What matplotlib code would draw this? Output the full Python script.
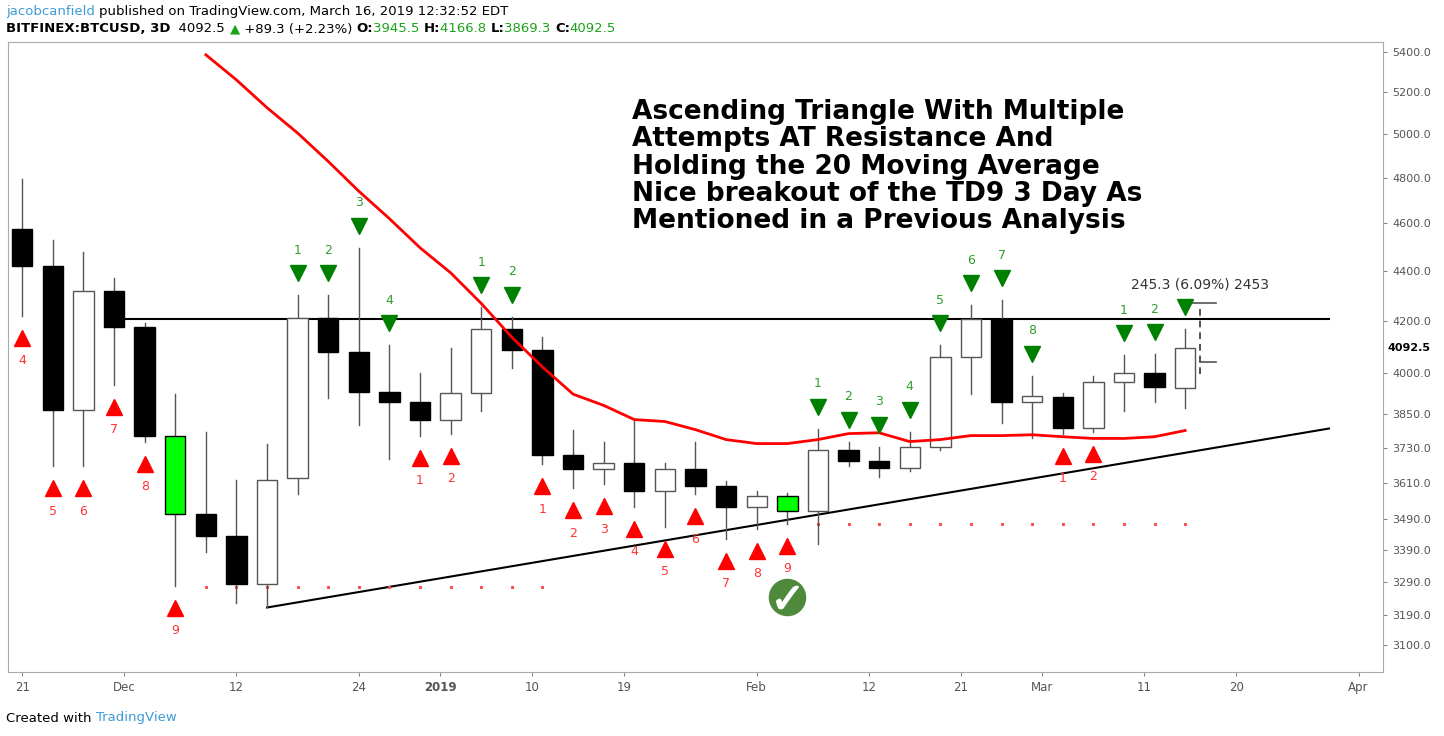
import numpy as np
import matplotlib.pyplot as plt
from matplotlib.patches import Rectangle
from matplotlib.transforms import ScaledTranslation

# 3D candles, BITFINEX:BTCUSD, starting Nov 21 2018
opens = [4574, 4422, 3865, 4320, 4177, 3772, 3507, 3435, 3284, 3624, 4212, 4077, 3928,
         3894, 3829, 3925, 4169, 4085, 3703, 3655, 3675, 3580, 3655, 3597, 3530, 3514,
         3514, 3723, 3682, 3658, 3733, 4058, 4208, 3894, 3909, 3800, 3966, 4000, 3945.5]
highs = [4796, 4530, 4480, 4372, 4192, 3921, 3786, 3617, 3744, 4300, 4300, 4496, 4104,
         4000, 4093, 4252, 4216, 4135, 3793, 3751, 3829, 3675, 3751, 3614, 3580, 3574,
         3797, 3751, 3733, 3786, 4104, 4260, 4280, 3989, 3925, 3989, 4066, 4070, 4166.8]
lows = [4220, 3665, 3665, 3955, 3751, 3278, 3384, 3227, 3212, 3570, 3906, 3811, 3689,
        3772, 3779, 3858, 4019, 3672, 3590, 3604, 3530, 3464, 3570, 3425, 3458, 3474,
        3409, 3665, 3630, 3648, 3723, 3921, 3815, 3762, 3779, 3786, 3858, 3894, 3869.3]
closes = [4422, 3865, 4320, 4177, 3772, 3507, 3435, 3284, 3620, 4212, 4077, 3928, 3894,
          3829, 3925, 4169, 4085, 3703, 3655, 3675, 3580, 3655, 3597, 3530, 3564, 3564,
          3723, 3682, 3658, 3733, 4058, 4208, 3894, 3913, 3800, 3966, 4000, 3947, 4092.5]
highlight = [5, 25]  # TD9 bars painted green

# 20 MA from candle index 6 onwards
ma20 = [5385, 5260, 5125, 5005, 4874, 4740, 4620, 4496, 4392, 4268, 4135, 4022, 3921,
        3880, 3829, 3822, 3793, 3758, 3744, 3744, 3758, 3779, 3782, 3751, 3758, 3772,
        3772, 3775, 3768, 3762, 3762, 3768, 3790]
ma_start = 6

# TD sequential counts: candle index -> count
td_sell = {9: 1, 10: 2, 11: 3, 12: 4, 15: 1, 16: 2, 26: 1, 27: 2, 28: 3, 29: 4, 30: 5,
           31: 6, 32: 7, 33: 8, 36: 1, 37: 2, 38: None}
td_buy = {0: 4, 1: 5, 2: 6, 3: 7, 4: 8, 5: 9, 13: 1, 14: 2, 17: 1, 18: 2, 19: 3, 20: 4,
          21: 5, 22: 6, 23: 7, 24: 8, 25: 9, 34: 1, 35: 2}

tdst_lines = [(6, 17, 3275), (26, 38, 3474)]
resistance = 4208
trend_start = (8, 3212)
trend_end = (42.7, 3797)

ytick_vals = [3100, 3190, 3290, 3390, 3490, 3610, 3730, 3850, 4000, 4200, 4400, 4600,
              4800, 5000, 5200, 5400]
xtick_days = [0, 10, 21, 33, 41, 50, 59, 72, 83, 92, 100, 110, 119, 131]
xtick_labels = ["21", "Dec", "12", "24", "2019", "10", "19", "Feb", "12", "21", "Mar",
                "11", "20", "Apr"]

title_lines = ["Ascending Triangle With Multiple", "Attempts AT Resistance And",
               "Holding the 20 Moving Average", "Nice breakout of the TD9 3 Day As",
               "Mentioned in a Previous Analysis"]

fig = plt.figure(figsize=(14.44, 7.36), dpi=100)
ax = fig.add_axes([8 / 1444, 1 - 672 / 736, 1375 / 1444, 630 / 736])
ax.set_yscale("log")
ax.set_xlim(-1.4, 133.4)
ax.set_ylim(3024, 5450)

days = np.arange(len(opens)) * 3
w = 2.0
for i, d in enumerate(days):
    o, h, l, c = opens[i], highs[i], lows[i], closes[i]
    ax.plot([d, d], [l, h], color="#555555", lw=1, zorder=2)
    if i in highlight:
        fc = "#00ff00"
    elif c < o:
        fc = "black"
    else:
        fc = "white"
    lo, hi = min(o, c), max(o, c)
    ax.add_patch(Rectangle((d - w / 2, lo), w, hi - lo, facecolor=fc,
                           edgecolor="black" if fc != "white" else "#555555", lw=1, zorder=3))

ax.plot(days[ma_start:ma_start + len(ma20)], ma20, color="#ff0000", lw=2, zorder=4)

ax.plot([days[3], trend_end[0] * 3], [resistance, resistance], color="black", lw=1.5, zorder=1)
ax.plot([trend_start[0] * 3, trend_end[0] * 3], [trend_start[1], trend_end[1]],
        color="black", lw=1.5, zorder=1)

for a, b, lvl in tdst_lines:
    ax.plot(days[a:b + 1], [lvl] * (b - a + 1), ls="none", marker="s", ms=1.2,
            color="#ff4444", zorder=1)

up = ax.transData + ScaledTranslation(0, 22 / 100, fig.dpi_scale_trans)
down = ax.transData + ScaledTranslation(0, -22 / 100, fig.dpi_scale_trans)
for i, n in td_sell.items():
    ax.plot(days[i], highs[i], marker="v", ms=12, color="#008000", ls="none", zorder=5,
            transform=up)
    if n is not None:
        ax.annotate(str(n), (days[i], highs[i]), xytext=(0, 45), textcoords="offset pixels",
                    ha="center", va="center", color="#2e9e2e", fontsize=9)

for i, n in td_buy.items():
    ax.plot(days[i], lows[i], marker="^", ms=12, color="#ff0000", ls="none", zorder=5,
            transform=down)
    ax.annotate(str(n), (days[i], lows[i]), xytext=(0, -45), textcoords="offset pixels",
                ha="center", va="center", color="#ff3333", fontsize=9)

# check mark on the TD9 buy
ax.plot(days[25], 3245, marker="o", ms=26, color="#4f8a3c", zorder=6)
ax.plot(days[25], 3245, marker="$\u2713$", ms=16, color="white", zorder=7)

# measure tool
mx = days[38] + 1.5
ax.plot([mx, mx], [3995, 4262], color="#333333", lw=1.2, ls=(0, (4, 3)))
ax.plot([mx, mx + 1.5], [4040, 4040], color="#555555", lw=1.2)
ax.plot([mx - 1.5, mx + 1.5], [4268, 4268], color="#555555", lw=1.2)
ax.annotate("245.3 (6.09%) 2453", (mx, 4268), xytext=(0, 12), textcoords="offset pixels",
            ha="center", va="bottom", fontsize=10, color="#333333")

ax.text(0.4535, 0.91, "\n".join(title_lines), transform=ax.transAxes, ha="left", va="top",
        fontsize=19, fontweight="bold", linespacing=1.07, family="DejaVu Sans")

ax.yaxis.tick_right()
ax.set_yticks(ytick_vals)
ax.set_yticklabels([f"{v:.1f}" for v in ytick_vals], fontsize=8, color="#555555")
ax.yaxis.set_minor_locator(plt.NullLocator())
ax.set_xticks(xtick_days)
ax.set_xticklabels(xtick_labels, fontsize=8.5, color="#555555")
for lbl in ax.get_xticklabels():
    if lbl.get_text() == "2019":
        lbl.set_fontweight("bold")
ax.tick_params(length=3, color="#888888")
for s in ax.spines.values():
    s.set_color("#aaaaaa")
ax.text(1.003, np.log(4092.5 / 3024) / np.log(5450 / 3024), "4092.5", transform=ax.transAxes,
        fontsize=8, fontweight="bold", va="center", ha="left",
        bbox=dict(facecolor="white", edgecolor="none", pad=1))

fig.canvas.draw()
r = fig.canvas.get_renderer()


def text_row(parts, y, x0=6):
    xpos = x0 / 1444
    for t, col, fw in parts:
        tt = fig.text(xpos, 1 - y / 736, t, color=col, fontweight=fw, fontsize=9.5, va="center")
        xpos += tt.get_window_extent(renderer=r).width / 1444


text_row([("jacobcanfield ", "#3d9bd6", "normal"),
          ("published on TradingView.com, March 16, 2019 12:32:52 EDT", "black", "normal")], 11)
text_row([("BITFINEX:BTCUSD, 3D", "black", "bold"), ("  4092.5 ", "black", "normal"),
          ("\u25b2", "#1aa31a", "normal"), (" +89.3 (+2.23%) ", "black", "normal"),
          ("O:", "black", "bold"), ("3945.5 ", "#1aa31a", "normal"), ("H:", "black", "bold"),
          ("4166.8 ", "#1aa31a", "normal"), ("L:", "black", "bold"), ("3869.3 ", "#1aa31a", "normal"),
          ("C:", "black", "bold"), ("4092.5", "#1aa31a", "normal")], 29)
text_row([("Created with ", "black", "normal"), ("TradingView", "#3d9bd6", "normal")], 718)

fig.savefig("out.png", dpi=100)
